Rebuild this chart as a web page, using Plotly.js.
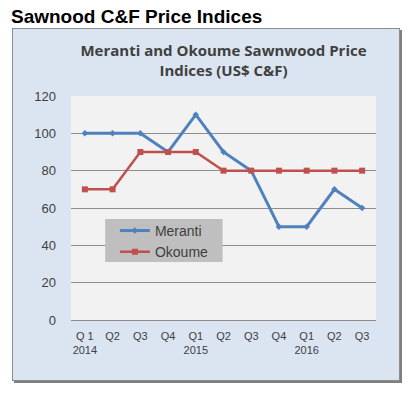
<!DOCTYPE html>
<html><head><meta charset="utf-8">
<script src="https://cdn.plot.ly/plotly-3.0.1.min.js"></script>
<style>
html,body{margin:0;padding:0;background:#fff;width:411px;height:393px;overflow:hidden;}
#box{position:absolute;left:12px;top:28px;width:386px;height:351px;background:#dbe5f1;border:1px solid #8c8c8c;box-shadow:2px 2px 0 #7f7f7f;}
#chart{position:absolute;left:0;top:0;width:411px;height:393px;}
</style></head>
<body>
<div id="box"></div>
<div id="chart"></div>
<script>
const categories = ["Q 1<br>2014","Q2","Q3","Q4","Q1<br>2015","Q2","Q3","Q4","Q1<br>2016","Q2","Q3"];
const meranti = [100,100,100,90,110,90,80,50,50,70,60];
const okoume = [70,70,90,90,90,80,80,80,80,80,80];
const yTicks = [0,20,40,60,80,100,120];
const idx = categories.map((c,i)=>i);

const traces = [
  {x: idx, y: meranti, name: "Meranti", type: "scatter", mode: "lines+markers",
   line: {color: "#4f81bd", width: 3}, marker: {symbol: "diamond", size: 5, color: "#4f81bd"}},
  {x: idx, y: okoume, name: "Okoume", type: "scatter", mode: "lines+markers",
   line: {color: "#c0504d", width: 2.5}, marker: {symbol: "square", size: 6, color: "#c0504d"}}
];

const layout = {
  width: 411, height: 393,
  margin: {l: 71, r: 35, t: 96, b: 73},
  paper_bgcolor: "rgba(0,0,0,0)",
  plot_bgcolor: "#f2f2f2",
  font: {family: "Liberation Sans, Arial, sans-serif", color: "#404040"},
  title: {text: "<b>Meranti and Okoume Sawnwood Price<br>Indices (US$ C&F)</b>",
          font: {family: "Open Sans, sans-serif", size: 15, color: "#404040"},
          x: 0.5, xref: "paper", y: 0.857, yref: "container", yanchor: "top"},
  xaxis: {tickmode: "array", tickvals: idx, ticktext: categories, range: [-0.5, 10.5],
          showgrid: false, zeroline: false, showline: false, ticks: "",
          ticklabelstandoff: 8,
          tickfont: {size: 11, color: "#404040"}, fixedrange: true},
  yaxis: {range: [0, 120], tickmode: "array", tickvals: yTicks, showgrid: true,
          gridcolor: "#8c8c8c", gridwidth: 1, zeroline: true, zerolinecolor: "#8c8c8c",
          showline: false, ticks: "", ticklabelstandoff: 14,
          tickfont: {size: 13, color: "#404040"}, fixedrange: true},
  showlegend: true,
  legend: {x: 0.144, y: 0.469, xanchor: "left", yanchor: "top",
           bgcolor: "rgba(0,0,0,0)", borderwidth: 0, font: {size: 14, color: "#404040"},
           tracegroupgap: 0, itemwidth: 30},
  shapes: [
    {type: "rect", xref: "paper", yref: "paper", x0: 0.112, x1: 0.497, y0: 0.259, y1: 0.451,
     fillcolor: "#bfbfbf", line: {width: 0}, layer: "above"}
  ],
  annotations: [
    {text: "<b>Sawnood C&F Price Indices</b>", xref: "paper", yref: "paper",
     x: -0.203, y: 1.357, xanchor: "left", yanchor: "middle", showarrow: false,
     font: {family: "Liberation Sans, Arial, sans-serif", size: 19, color: "#000"}}
  ]
};
Plotly.newPlot("chart", traces, layout, {displayModeBar: false, staticPlot: true});
</script>
</body></html>
